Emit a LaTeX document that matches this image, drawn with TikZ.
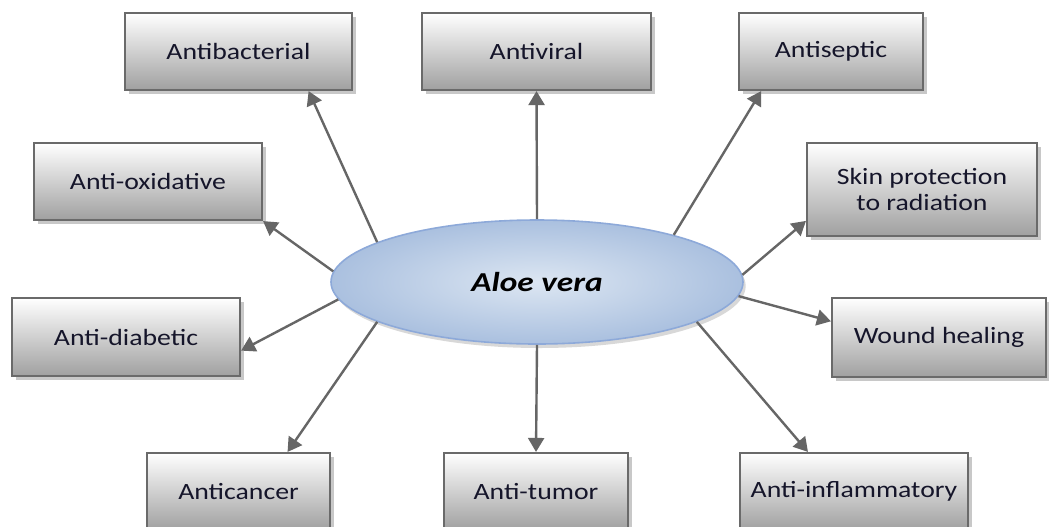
\documentclass[tikz,border=0pt]{standalone}
\usepackage{fontspec}
\setmainfont{Carlito}
\usepackage{graphicx}
\usetikzlibrary{shapes.geometric,shadows,arrows.meta,calc}
\definecolor{boxline}{HTML}{6A6A6A}
\definecolor{boxgray}{HTML}{A0A0A0}
\definecolor{arrowc}{HTML}{666666}
\definecolor{ellline}{HTML}{8DA9D9}
\definecolor{ellin}{HTML}{DCE6F2}
\definecolor{ellout}{HTML}{AAC0DF}
\definecolor{txt}{HTML}{15152A}
\newcommand\wtxt[1]{\scalebox{1.19}[1]{#1}}
\begin{document}
\begin{tikzpicture}[x=0.75pt,y=-0.75pt,
  box/.style={draw=boxline, line width=1.6pt, top color=white, bottom color=boxgray,
    minimum height=57.75pt, inner sep=0pt, align=center, text=txt,
    font=\fontsize{17.5}{20}\selectfont,
    drop shadow={shadow xshift=3pt, shadow yshift=-3pt, fill=black!30, opacity=0.7}},
  conn/.style={draw=arrowc, line width=1.8pt, -{Triangle[length=10.5pt,width=12pt]}}]
\useasboundingbox (0,0) rectangle (1049,526);
\clip (0,0) rectangle (1049,526);
\fill[white] (0,0) rectangle (1049,526);

% boxes
\node[box, minimum width=170.25pt] (antibac) at (238.5,51.5) {\wtxt{Antibacterial}};
\node[box, minimum width=171.75pt] (antiviral) at (536.5,51.5) {\wtxt{Antiviral}};
\node[box, minimum width=138pt] (antiseptic) at (831,51.5) {\wtxt{Antiseptic}};
\node[box, minimum width=171pt] (antiox) at (148,181.5) {\wtxt{Anti-oxidative}};
\node[box, minimum width=172.5pt, minimum height=69.75pt] (skin) at (922,189.5) {\wtxt{Skin protection}\\[0pt]\wtxt{to radiation}};
\node[box, minimum width=171pt, minimum height=58.5pt] (antidiab) at (126,337) {\wtxt{Anti-diabetic}};
\node[box, minimum width=160.5pt, minimum height=59.25pt] (wound) at (939,337.5) {\wtxt{Wound healing}};
\node[box, minimum width=137.25pt] (anticancer) at (238.5,491.5) {\wtxt{Anticancer}};
\node[box, minimum width=138pt] (antitumor) at (536,491.5) {\wtxt{Anti-tumor}};
\node[box, minimum width=171pt] (antiinfl) at (854,491.5) {\wtxt{Anti-inflammatory}};

% central ellipse
\node[ellipse, minimum width=309pt, minimum height=93pt, draw=ellline, line width=1.2pt,
  inner color=ellin, outer color=ellout, text=black,
  drop shadow={shadow xshift=2pt, shadow yshift=-3pt, fill=black!25, opacity=0.6}]
  (aloe) at (537,282) {\fontsize{20.5}{24}\selectfont\bfseries\itshape\scalebox{1.22}[1]{Aloe vera}};

% connectors
\draw[conn] (aloe.166.5) -- ($(antibac.south west)!0.806!(antibac.south east)$);
\draw[conn] (aloe.90) -- (antiviral.south);
\draw[conn] (aloe.19.2) -- ($(antiseptic.south west)!0.125!(antiseptic.south east)$);
\draw[conn] (aloe.177) -- (antiox.south east);
\draw[conn] (aloe.2.8) -- ($(skin.north west)!0.83!(skin.south west)$);
\draw[conn] (aloe.-4.5) -- ($(wound.north west)!0.30!(wound.south west)$);
\draw[conn] (aloe.-14.5) -- ($(antiinfl.north west)!0.30!(antiinfl.north east)$);
\draw[conn] (aloe.270) -- (antitumor.north);
\draw[conn] (aloe.194) -- ($(anticancer.north west)!0.765!(anticancer.north east)$);
\draw[conn] (aloe.185) -- ($(antidiab.north east)!0.67!(antidiab.south east)$);
\end{tikzpicture}
\end{document}
